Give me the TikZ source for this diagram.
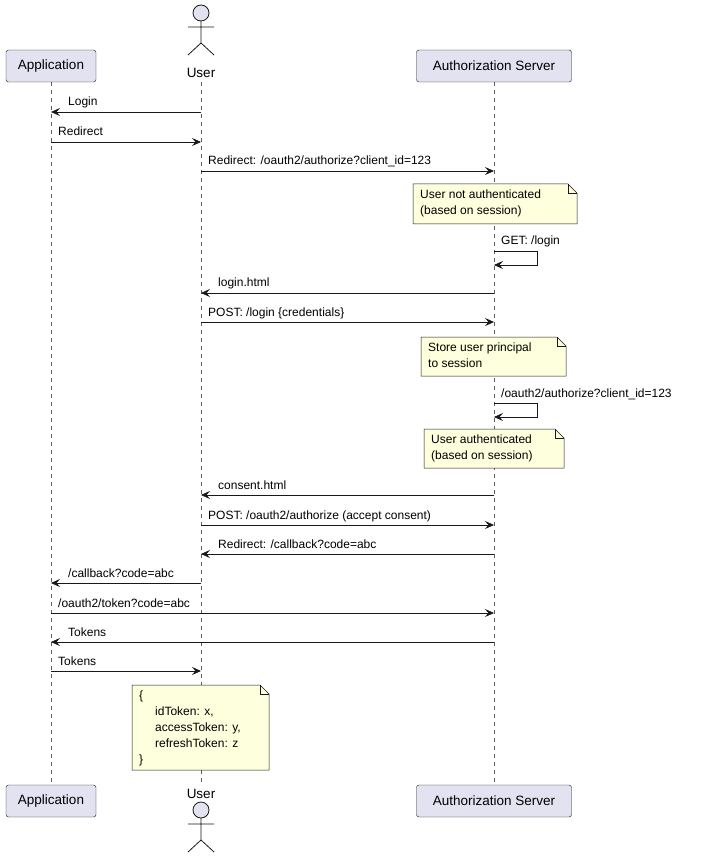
\documentclass[tikz,border=0pt]{standalone}
\usepackage{fontspec}
\setmainfont{Liberation Sans}
\usetikzlibrary{arrows.meta,calc}
\definecolor{pbox}{HTML}{E2E2F0}
\definecolor{pbord}{HTML}{181818}
\definecolor{nbg}{HTML}{FEFFDD}
\tikzset{
  part/.style={draw=pbord,fill=pbox,rounded corners=2.5pt,minimum height=32pt,inner xsep=4pt,font=\fontsize{13.5}{15}\selectfont},
  life/.style={draw=pbord!70,dash pattern=on 4pt off 4pt,line width=0.5pt},
  msg/.style={draw=pbord,line width=0.7pt,-{Stealth[length=9pt,width=8pt,inset=3.5pt]}},
  lbl/.style={font=\fontsize{12}{14}\selectfont,anchor=base west,inner sep=0pt},
  ntxt/.style={font=\fontsize{12}{16}\selectfont,align=left,anchor=north west,inner sep=0pt},
  notebox/.style={draw=pbord,fill=nbg,line width=0.5pt},
}
\newcommand{\mynote}[5]{% name x1 y1 x2 y2
  \path[notebox] (#2,#3) -- (#4-9,#3) -- (#4,#3+9) -- (#4,#5) -- (#2,#5) -- cycle;
  \draw[line width=0.5pt,draw=pbord] (#4-9,#3) -- (#4-9,#3+9) -- (#4,#3+9);
  \coordinate (#1) at (#2+7,#3+6);}
\newcommand{\actor}[3]{% name x ytop
  \draw[fill=pbox,draw=pbord,line width=0.8pt] (#2,#3+8) circle (8);
  \draw[draw=pbord,line width=0.8pt] (#2,#3+16) -- (#2,#3+38) (#2-13,#3+22) -- (#2+13,#3+22)
     (#2-13,#3+50) -- (#2,#3+38) -- (#2+13,#3+50);}
\begin{document}
\begin{tikzpicture}[x=1pt,y=-1pt]
\useasboundingbox (0,0) rectangle (717,866);
% lifelines
\draw[life] (51,82) -- (51,785);
\draw[life] (201,82) -- (201,785);
\draw[life] (494,82) -- (494,785);
% participants
\node[part,minimum width=90pt] (appT) at (51,66) {Application};
\node[part,minimum width=90pt] (appB) at (51,801) {Application};
\node[part,minimum width=155pt] (authT) at (494,66) {Authorization Server};
\node[part,minimum width=155pt] (authB) at (494,801) {Authorization Server};
\actor{userT}{201}{5}
\node[font=\fontsize{13.5}{15}\selectfont] (userTl) at (201,73) {User};
\actor{userB}{201}{802}
\node[font=\fontsize{13.5}{15}\selectfont] (userBl) at (201,794) {User};
\coordinate (A) at (51,0); \coordinate (U) at (201,0); \coordinate (S) at (494,0);
% messages
\newcommand{\mr}[4]{% from to y label (left to right)
  \draw[msg] (#1|-0,#3) -- (#2|-0,#3);
  \node[lbl] at ($(#1|-0,#3)+(7,-6)$) {#4};}
\newcommand{\ml}[4]{% from to y label (right to left)
  \draw[msg] (#1|-0,#3) -- (#2|-0,#3);
  \node[lbl] at ($(#2|-0,#3)+(17,-6)$) {#4};}
\newcommand{\ms}[2]{% self y label
  \draw[msg] (S|-0,#1) -- ++(43,0) -- ++(0,14) -- ++(-43,0);
  \node[lbl] at ($(S|-0,#1)+(7,-6)$) {#2};}
\ml{U}{A}{112}{Login}
\mr{A}{U}{142}{Redirect}
\mr{U}{S}{171}{Redirect: /oauth2/authorize?client\_id=123}
\mynote{n1}{413}{184}{577}{224}
\node[ntxt] at (n1) {User not authenticated\\(based on session)};
\ms{251}{GET: /login}
\ml{S}{U}{293}{login.html}
\mr{U}{S}{322}{POST: /login \{credentials\}}
\mynote{n2}{421}{337}{566}{376}
\node[ntxt] at (n2) {Store user principal\\to session};
\ms{403}{/oauth2/authorize?client\_id=123}
\mynote{n3}{424}{429}{564}{468}
\node[ntxt] at (n3) {User authenticated\\(based on session)};
\ml{S}{U}{495}{consent.html}
\mr{U}{S}{525}{POST: /oauth2/authorize (accept consent)}
\ml{S}{U}{554}{Redirect: /callback?code=abc}
\ml{U}{A}{583}{/callback?code=abc}
\mr{A}{S}{613}{/oauth2/token?code=abc}
\ml{S}{A}{642}{Tokens}
\mr{A}{U}{671}{Tokens}
\mynote{n4}{132}{685}{269}{770}
\node[ntxt] at (n4) {\{\\\hspace*{16pt}idToken: x,\\\hspace*{16pt}accessToken: y,\\\hspace*{16pt}refreshToken: z\\\}};
\end{tikzpicture}
\end{document}
